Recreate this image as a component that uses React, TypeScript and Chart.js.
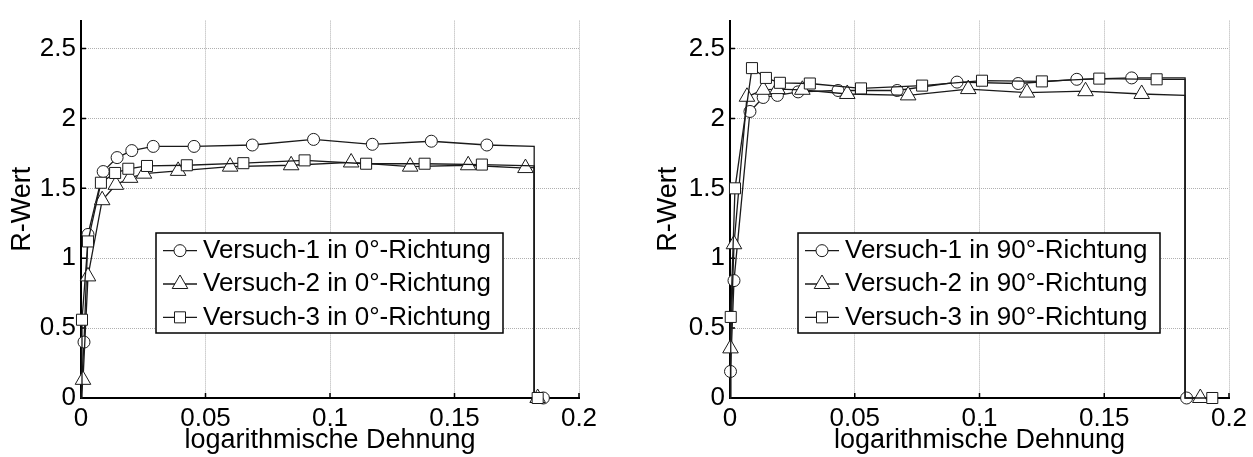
import React, { useEffect, useRef } from "react";
import { Chart, registerables } from "chart.js";
Chart.register(...registerables);

const FONT = "'Liberation Sans', Arial, Helvetica, sans-serif";

const X_TICKS = [0, 0.05, 0.1, 0.15, 0.2];
const Y_TICKS = [0, 0.5, 1, 1.5, 2, 2.5];
const X_MAX = 0.2;
const Y_MAX = 2.7;
const X_TITLE = "logarithmische Dehnung";
const Y_TITLE = "R-Wert";

// ---- left plot (0°) ----
const LEFT_LABELS = ["Versuch-1 in 0°-Richtung", "Versuch-2 in 0°-Richtung", "Versuch-3 in 0°-Richtung"];
const L1_X = [0.0012, 0.0028, 0.0089, 0.0145, 0.0204, 0.029, 0.0454, 0.0688, 0.0934, 0.117, 0.1407, 0.163];
const L1_Y = [0.40, 1.17, 1.62, 1.72, 1.77, 1.80, 1.80, 1.81, 1.85, 1.815, 1.837, 1.81];
const L2_X = [0.0008, 0.0028, 0.0085, 0.014, 0.0197, 0.0253, 0.039, 0.0599, 0.0844, 0.1085, 0.1322, 0.1555, 0.1785];
const L2_Y = [0.13, 0.87, 1.415, 1.525, 1.575, 1.605, 1.625, 1.655, 1.665, 1.685, 1.655, 1.665, 1.645];
const L3_X = [0.0004, 0.0028, 0.008, 0.0137, 0.019, 0.0265, 0.0425, 0.0652, 0.0898, 0.1145, 0.138, 0.161];
const L3_Y = [0.56, 1.12, 1.54, 1.61, 1.64, 1.66, 1.665, 1.68, 1.70, 1.676, 1.676, 1.67];
const LEFT_LEVELS = [1.80, 1.65, 1.66];
const LEFT_END_X = [0.1857, 0.1834, 0.1834];
const LEFT_DROP_X = 0.182;

// ---- right plot (90°) ----
const RIGHT_LABELS = ["Versuch-1 in 90°-Richtung", "Versuch-2 in 90°-Richtung", "Versuch-3 in 90°-Richtung"];
const R1_X = [0.0002, 0.0016, 0.008, 0.0133, 0.019, 0.0273, 0.0433, 0.067, 0.091, 0.1155, 0.139, 0.161];
const R1_Y = [0.19, 0.84, 2.05, 2.15, 2.165, 2.19, 2.20, 2.20, 2.26, 2.25, 2.28, 2.29];
const R2_X = [0.0002, 0.0016, 0.0068, 0.0133, 0.019, 0.029, 0.047, 0.0714, 0.0955, 0.119, 0.1425, 0.165];
const R2_Y = [0.355, 1.10, 2.155, 2.205, 2.21, 2.205, 2.175, 2.165, 2.21, 2.185, 2.195, 2.175];
const R3_X = [0.0003, 0.002, 0.0088, 0.0144, 0.020, 0.032, 0.0525, 0.077, 0.101, 0.125, 0.148, 0.171];
const R3_Y = [0.58, 1.50, 2.36, 2.29, 2.255, 2.25, 2.215, 2.235, 2.27, 2.265, 2.285, 2.28];
const RIGHT_LEVELS = [2.29, 2.165, 2.28];
const RIGHT_END_X = [0.1830, 0.1885, 0.1933];
const RIGHT_DROP_X = 0.1824;

const STYLES = ["circle", "triangle", "rect"] as const;
const RADII = { circle: 6, triangle: 9, rect: 7.8 } as Record<string, number>;
const LINE_COLOR = "#1a1a1a";
const TICK_SIZE = 26;
const TITLE_SIZE = 27;

function buildPoints(xs: number[], ys: number[], level: number, dropX: number, endX: number) {
  const pts: any[] = [{ x: 0, y: 0, m: false }];
  xs.forEach((x, i) => pts.push({ x, y: ys[i], m: true }));
  pts.push({ x: dropX, y: level, m: false });
  pts.push({ x: dropX, y: 0, m: false });
  pts.push({ x: endX, y: 0, m: true });
  return pts;
}

function drawMarker(ctx: CanvasRenderingContext2D, style: string, x: number, y: number) {
  const r = RADII[style];
  ctx.save();
  ctx.fillStyle = "#fff";
  ctx.strokeStyle = LINE_COLOR;
  ctx.lineWidth = 1;
  ctx.beginPath();
  if (style === "circle") {
    ctx.arc(x, y, r, 0, Math.PI * 2);
  } else if (style === "triangle") {
    const w = r * Math.sin(Math.PI / 3);
    ctx.moveTo(x, y - r);
    ctx.lineTo(x + w, y + r / 2);
    ctx.lineTo(x - w, y + r / 2);
    ctx.closePath();
  } else {
    const s = r * Math.SQRT1_2;
    ctx.rect(x - s, y - s, 2 * s, 2 * s);
  }
  ctx.fill();
  ctx.stroke();
  ctx.restore();
}

type PlotProps = {
  left: number;
  width: number;
  yAxisWidth: number;
  padRight: number;
  labels: string[];
  series: any[][];
  legendBox: { l: number; t: number; r: number; b: number };
};

function Plot(props: PlotProps) {
  const ref = useRef<HTMLCanvasElement | null>(null);
  useEffect(() => {
    const canvas = ref.current!;
    const datasets = props.series.map((pts, i) => ({
      label: props.labels[i],
      data: pts,
      order: 2 - i,
      showLine: true,
      borderColor: LINE_COLOR,
      borderWidth: 1.3,
      backgroundColor: "#fff",
      pointStyle: STYLES[i],
      pointBorderColor: LINE_COLOR,
      pointBackgroundColor: "#fff",
      pointBorderWidth: 1,
      pointRadius: (c: any) => (c.raw && c.raw.m ? RADII[STYLES[i]] : 0),
      pointHoverRadius: 0,
      tension: 0,
      clip: false as any,
    }));

    const tickPlugin = {
      id: "inwardTicks",
      beforeDatasetsDraw(chart: any) {
        const ctx = chart.ctx as CanvasRenderingContext2D;
        const a = chart.chartArea;
        const xs = chart.scales.x;
        const ys = chart.scales.y;
        ctx.save();
        ctx.strokeStyle = "#000";
        ctx.lineWidth = 1.5;
        ctx.beginPath();
        X_TICKS.forEach((v) => {
          const px = xs.getPixelForValue(v);
          ctx.moveTo(px, a.bottom);
          ctx.lineTo(px, a.bottom - 5);
        });
        Y_TICKS.forEach((v) => {
          const py = ys.getPixelForValue(v);
          ctx.moveTo(a.left, py);
          ctx.lineTo(a.left + 5, py);
        });
        ctx.stroke();
        ctx.restore();
      },
    };

    const legendPlugin = {
      id: "boxLegend",
      afterDraw(chart: any) {
        const ctx = chart.ctx as CanvasRenderingContext2D;
        const b = props.legendBox;
        ctx.save();
        ctx.fillStyle = "#fff";
        ctx.fillRect(b.l, b.t, b.r - b.l, b.b - b.t);
        ctx.strokeStyle = "#000";
        ctx.lineWidth = 1.5;
        ctx.strokeRect(b.l, b.t, b.r - b.l, b.b - b.t);
        const rowH = (b.b - b.t) / 3;
        props.labels.forEach((lab, i) => {
          const cy = b.t + rowH * (i + 0.5) + 1;
          ctx.strokeStyle = LINE_COLOR;
          ctx.lineWidth = 1.3;
          ctx.beginPath();
          ctx.moveTo(b.l + 7, cy);
          ctx.lineTo(b.l + 41, cy);
          ctx.stroke();
          drawMarker(ctx, STYLES[i], b.l + 24, cy);
          ctx.fillStyle = "#000";
          ctx.font = `${TICK_SIZE}px ${FONT}`;
          ctx.textBaseline = "middle";
          ctx.textAlign = "left";
          ctx.fillText(lab, b.l + 47, cy);
        });
        ctx.restore();
      },
    };

    const tickFont = { family: FONT, size: TICK_SIZE };
    const titleFont = { family: FONT, size: TITLE_SIZE };
    const chart = new Chart(canvas, {
      type: "scatter",
      data: { datasets: datasets as any },
      options: {
        animation: false,
        responsive: false,
        maintainAspectRatio: false,
        layout: { padding: { top: 12, right: props.padRight, left: 0, bottom: 0 } },
        plugins: { legend: { display: false }, tooltip: { enabled: false } },
        events: [],
        scales: {
          x: {
            type: "linear",
            min: 0,
            max: X_MAX,
            afterBuildTicks: (s: any) => {
              s.ticks = X_TICKS.map((v) => ({ value: v }));
            },
            afterFit: (s: any) => {
              s.height = 59;
            },
            grid: { color: "#b0b0b0", lineWidth: 1, drawTicks: false },
            border: { display: true, color: "#000", width: 2, dash: [1, 1] },
            ticks: {
              font: tickFont,
              color: "#000",
              padding: 5,
              maxRotation: 0,
              autoSkip: false,
              callback: (v: any) => String(v),
            },
            title: {
              display: true,
              text: X_TITLE,
              font: titleFont,
              color: "#000",
              padding: { top: 0, bottom: 0 },
            },
          },
          y: {
            type: "linear",
            min: 0,
            max: Y_MAX,
            afterBuildTicks: (s: any) => {
              s.ticks = Y_TICKS.map((v) => ({ value: v }));
            },
            afterFit: (s: any) => {
              s.width = props.yAxisWidth;
            },
            grid: { color: "#b0b0b0", lineWidth: 1, drawTicks: false },
            border: { display: true, color: "#000", width: 2, dash: [1, 1] },
            ticks: {
              font: tickFont,
              color: "#000",
              padding: 5,
              autoSkip: false,
              callback: (v: any) => String(v),
            },
            title: {
              display: true,
              text: Y_TITLE,
              font: titleFont,
              color: "#000",
              padding: { top: 6, bottom: 0 },
            },
          },
        },
      },
      plugins: [tickPlugin, legendPlugin],
    } as any);
    return () => chart.destroy();
  }, []);
  return (
    <canvas
      ref={ref}
      width={props.width}
      height={457}
      style={{ position: "absolute", left: props.left, top: 0, width: props.width, height: 457 }}
    />
  );
}

export default function App() {
  const leftSeries = [
    buildPoints(L1_X, L1_Y, LEFT_LEVELS[0], LEFT_DROP_X, LEFT_END_X[0]),
    buildPoints(L2_X, L2_Y, LEFT_LEVELS[1], LEFT_DROP_X, LEFT_END_X[1]),
    buildPoints(L3_X, L3_Y, LEFT_LEVELS[2], LEFT_DROP_X, LEFT_END_X[2]),
  ];
  const rightSeries = [
    buildPoints(R1_X, R1_Y, RIGHT_LEVELS[0], RIGHT_DROP_X, RIGHT_END_X[0]),
    buildPoints(R2_X, R2_Y, RIGHT_LEVELS[1], RIGHT_DROP_X, RIGHT_END_X[1]),
    buildPoints(R3_X, R3_Y, RIGHT_LEVELS[2], RIGHT_DROP_X, RIGHT_END_X[2]),
  ];
  return (
    <div style={{ position: "fixed", left: 0, top: 0, width: 1253, height: 457, background: "#fff" }}>
      <Plot
        left={0}
        width={626}
        yAxisWidth={81}
        padRight={47}
        labels={LEFT_LABELS}
        series={leftSeries}
        legendBox={{ l: 156, t: 233, r: 503, b: 333 }}
      />
      <Plot
        left={646}
        width={607}
        yAxisWidth={84}
        padRight={24}
        labels={RIGHT_LABELS}
        series={rightSeries}
        legendBox={{ l: 152, t: 233, r: 514, b: 333 }}
      />
    </div>
  );
}
